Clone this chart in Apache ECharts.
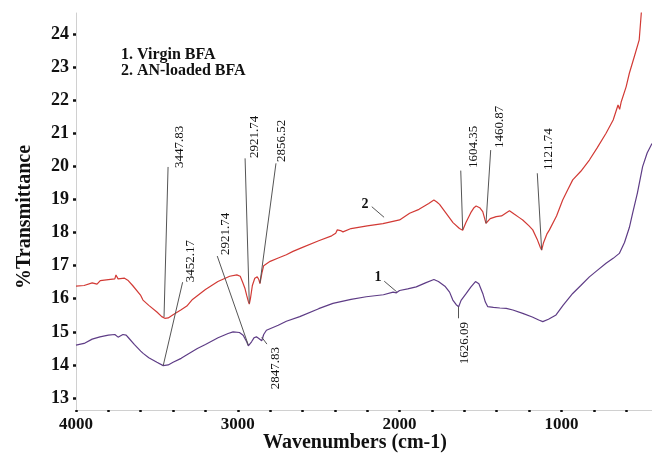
<!DOCTYPE html>
<html>
<head>
<meta charset="utf-8">
<script src="https://cdn.jsdelivr.net/npm/echarts@6/dist/echarts.min.js"></script>
<style>html,body{margin:0;padding:0;background:#fff}#c{width:652px;height:455px}</style>
</head>
<body>
<div id="c"></div>
<script>
// ---- data ----
var xTickLabels = [4000, 3000, 2000, 1000];
var xMinorTicks = [4000,3800,3600,3400,3200,3000,2800,2600,2400,2200,2000,1800,1600,1400,1200,1000,800,600];
var yTickLabels = [13,14,15,16,17,18,19,20,21,22,23,24];

var wnAN = [4000,3950,3900,3870,3850,3800,3760,3753,3740,3700,3680,3650,3600,3586,3550,3500,3470,3451,3430,3400,3350,3315,3280,3200,3123,3050,3006,2985,2970,2955,2945,2935,2929,2922,2910,2895,2880,2870,2863,2850,2840,2800,2750,2700,2659,2600,2500,2420,2395,2385,2375,2365,2350,2300,2200,2103,2000,1938,1880,1820,1788,1770,1753,1712,1670,1630,1610,1590,1560,1540,1527,1505,1486,1472,1466,1440,1403,1370,1340,1321,1290,1260,1239,1200,1177,1150,1130,1122,1110,1090,1074,1030,992,960,930,880,827,780,724,680,650,640,630,600,580,550,519,505];
var tAN  = [16.38,16.40,16.48,16.44,16.55,16.58,16.60,16.72,16.60,16.62,16.56,16.40,16.10,15.96,15.80,15.60,15.46,15.41,15.42,15.52,15.67,15.78,15.98,16.28,16.52,16.68,16.72,16.68,16.50,16.30,16.10,15.92,15.84,16.00,16.40,16.62,16.66,16.58,16.46,16.80,17.00,17.13,17.23,17.33,17.43,17.55,17.75,17.90,17.98,18.08,18.02,18.06,18.02,18.12,18.20,18.27,18.38,18.58,18.70,18.88,18.98,18.92,18.85,18.58,18.30,18.12,18.07,18.30,18.60,18.75,18.80,18.75,18.63,18.38,18.28,18.42,18.48,18.50,18.60,18.66,18.55,18.45,18.38,18.20,18.08,17.80,17.55,17.47,17.70,17.95,18.08,18.50,18.98,19.30,19.59,19.85,20.19,20.55,21.00,21.40,21.85,21.72,21.95,22.40,22.81,23.30,23.82,24.70];

var wnVirgin = [4000,3950,3900,3852,3800,3760,3753,3740,3710,3690,3677,3640,3600,3585,3550,3500,3461,3430,3400,3350,3317,3250,3200,3122,3060,3029,2990,2967,2945,2935,2915,2900,2885,2870,2852,2840,2823,2750,2700,2617,2500,2412,2300,2206,2100,2040,2020,2000,1950,1897,1840,1788,1760,1720,1691,1671,1650,1635,1620,1588,1560,1531,1510,1486,1470,1455,1420,1380,1341,1300,1239,1180,1140,1115,1080,1033,990,930,880,827,780,724,680,642,610,580,560,530,498,470,440];
var tVirgin  = [14.60,14.65,14.78,14.85,14.90,14.92,14.97,14.84,14.92,14.90,14.83,14.62,14.42,14.35,14.22,14.08,13.98,14.00,14.08,14.20,14.30,14.50,14.62,14.82,14.95,15.00,14.98,14.90,14.70,14.58,14.70,14.82,14.85,14.80,14.73,14.92,15.05,15.20,15.32,15.46,15.70,15.86,15.98,16.06,16.12,16.20,16.18,16.25,16.30,16.36,16.48,16.58,16.52,16.38,16.20,15.96,15.82,15.76,15.95,16.16,16.35,16.52,16.45,16.16,15.90,15.76,15.74,15.72,15.71,15.66,15.56,15.45,15.36,15.31,15.38,15.51,15.80,16.16,16.40,16.66,16.85,17.07,17.22,17.37,17.70,18.15,18.58,19.20,19.99,20.40,20.69];

// peak annotations: text, line start [wn,%T], line end [wn,%T], label anchor [wn,%T], label side ('up' = text above anchor, 'down' = below)
var peakTexts   = ['3447.83','3452.17','2921.74','2921.74','2856.52','2847.83','1604.35','1460.87','1121.74','1626.09'];
var peakFrom    = [[3456,15.45],[3461,13.98],[2935,14.60],[2929,15.86],[2863,16.47],[2852,14.84],[1610,18.08],[1466,18.28],[1122,17.47],[1635,15.76]];
var peakTo      = [[3431,19.98],[3341,16.50],[3127,17.29],[2955,20.24],[2764,20.09],[2820,14.63],[1622,19.87],[1437,20.49],[1149,19.79],[1635,15.41]];
var peakLabelAt = [[3357,19.95],[3289,16.50],[3073,17.32],[2894,20.25],[2729,20.13],[2764,14.54],[1545,19.95],[1384,20.55],[1081,19.89],[1600,15.30]];
var peakSide    = ['up','up','up','up','up','down','up','up','up','down'];

// curve number labels
var curveTexts = ['2','1'];
var curveTextAt = [[2214,18.86],[2134,16.66]];
var curveFrom = [[2172,18.78],[2095,16.53]];
var curveTo   = [[2096,18.46],[2018,16.21]];

var legendLines = ['1. Virgin BFA', '2. AN-loaded BFA'];

// ---- chart ----
var serif = 'Liberation Serif, Times New Roman, serif';
var chart = echarts.init(document.getElementById('c'), null, {renderer: 'canvas'});

function pairs(xs, ys){ return xs.map(function(x,i){ return [x, ys[i]]; }); }

var markLines = [];
peakFrom.forEach(function(p,i){ markLines.push([{coord: p}, {coord: peakTo[i]}]); });
curveFrom.forEach(function(p,i){ markLines.push([{coord: p}, {coord: curveTo[i]}]); });

chart.setOption({
  animation: false,
  backgroundColor: '#fff',
  grid: {left: 76, right: 0, top: 13, bottom: 45, containLabel: false},
  xAxis: {
    type: 'value', inverse: true, min: 440, max: 4000,
    axisLine: {show: true, lineStyle: {color: '#d0d0d0', width: 1}},
    axisTick: {show: true, customValues: xMinorTicks, length: 2, inside: false, lineStyle: {color: '#111', width: 2.5}},
    axisLabel: {customValues: xTickLabels, formatter: function(v){ return String(v); }, fontFamily: serif, fontWeight: 'bold', fontSize: 17, color: '#111', margin: 6},
    splitLine: {show: false}
  },
  yAxis: {
    type: 'value', min: 12.64, max: 24.63,
    axisLine: {show: true, lineStyle: {color: '#d0d0d0', width: 1}},
    axisTick: {show: true, customValues: yTickLabels, length: 3, lineStyle: {color: '#111', width: 2.5}},
    axisLabel: {customValues: yTickLabels, formatter: function(v){ return String(v); }, fontFamily: serif, fontWeight: 'bold', fontSize: 18, color: '#111', margin: 7},
    splitLine: {show: false}
  },
  series: [
    {
      name: 'AN-loaded BFA', type: 'line', data: pairs(wnAN, tAN), showSymbol: false, symbol: 'none',
      lineStyle: {color: '#d23a35', width: 1.2}, clip: true
    },
    {
      name: 'Virgin BFA', type: 'line', data: pairs(wnVirgin, tVirgin), showSymbol: false, symbol: 'none',
      lineStyle: {color: '#5e3c86', width: 1.2}, clip: true,
      markLine: {
        silent: true, symbol: ['none','none'], animation: false,
        label: {show: false},
        lineStyle: {color: '#555', width: 1, type: 'solid'},
        emphasis: {disabled: true},
        data: markLines
      }
    }
  ]
});

function px(p){ return chart.convertToPixel({gridIndex: 0}, p); }

var graphics = [];
peakTexts.forEach(function(t,i){
  var a = px(peakLabelAt[i]);
  graphics.push({
    type: 'text', x: a[0], y: a[1], rotation: Math.PI/2, silent: true,
    style: {text: t, fontFamily: serif, fontSize: 13, fill: '#111',
            align: peakSide[i] === 'up' ? 'left' : 'right', verticalAlign: 'middle'}
  });
});
curveTexts.forEach(function(t,i){
  var a = px(curveTextAt[i]);
  graphics.push({
    type: 'text', x: a[0], y: a[1], silent: true,
    style: {text: t, fontFamily: serif, fontWeight: 'bold', fontSize: 14, fill: '#111', align: 'center', verticalAlign: 'middle'}
  });
});
graphics.push({
  type: 'text', x: 121, y: 47, silent: true,
  style: {text: legendLines.join('\n'), fontFamily: serif, fontWeight: 'bold', fontSize: 16, lineHeight: 16, fill: '#111', align: 'left', verticalAlign: 'top'}
});
graphics.push({
  type: 'text', x: 355, y: 443, silent: true,
  style: {text: 'Wavenumbers (cm-1)', fontFamily: serif, fontWeight: 'bold', fontSize: 20, fill: '#111', align: 'center', verticalAlign: 'middle'}
});
graphics.push({
  type: 'text', x: 25, y: 217, rotation: Math.PI/2, silent: true,
  style: {text: '%Transmittance', fontFamily: serif, fontWeight: 'bold', fontSize: 20, fill: '#111', align: 'center', verticalAlign: 'middle'}
});
chart.setOption({graphic: graphics});
</script>
</body>
</html>
